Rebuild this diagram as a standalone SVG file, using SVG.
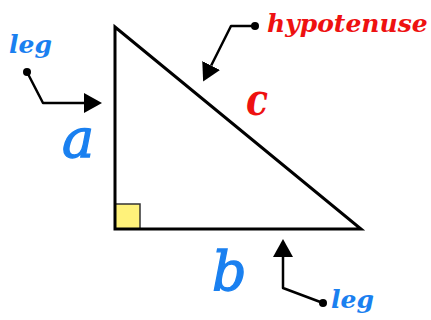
<svg xmlns="http://www.w3.org/2000/svg" width="431" height="320" viewBox="0 0 431 320">
<style>
.edge{fill:none;stroke:#000;stroke-width:2.5;stroke-linejoin:round}
.dot{fill:#000}
.lbl{font-family:"DejaVu Serif","Liberation Serif",serif;font-style:italic}
.blue{fill:#1a80f0}
.red{fill:#ee1111}
.bold{font-weight:bold}
.thick{stroke-width:1.3}
.blue.thick{stroke:#1a80f0}
</style>
<defs>
<marker id="ah" viewBox="0 0 18 20" refX="0" refY="10" markerWidth="18" markerHeight="20" markerUnits="userSpaceOnUse" orient="auto">
<path d="M0,0 L18,10 L0,20 Z" fill="#000"/>
</marker>
</defs>
<rect width="431" height="320" fill="#fff"/>
<g id="triangle">
<rect x="115" y="204" width="25" height="25" fill="#fff27a" stroke="#333" stroke-width="1.5"/>
<path d="M115,27 L115,229 L361,229 Z" fill="none" stroke="#000" stroke-width="3" stroke-linejoin="miter"/>
</g>
<g id="connectors">
<path class="edge" d="M27,72 L43,103 L84,103" marker-end="url(#ah)"/>
<circle class="dot" cx="27" cy="72" r="4"/>
<path class="edge" d="M255,26 L231,26 L211.2,65.5" marker-end="url(#ah)"/>
<circle class="dot" cx="255" cy="26" r="4"/>
<path class="edge" d="M323,303 L283,288 L283,257" marker-end="url(#ah)"/>
<circle class="dot" cx="323" cy="303" r="4"/>
</g>
<g id="label-leg-a"><text class="lbl bold blue" x="9" y="53" font-size="25">leg</text></g>
<g id="label-a"><text class="lbl blue thick" x="62" y="157" font-size="54">a</text></g>
<g id="label-hypotenuse"><text class="lbl bold red" x="267" y="32" font-size="25">hypotenuse</text></g>
<g id="label-c"><text class="lbl bold red" x="246" y="115" font-size="44" textLength="22" lengthAdjust="spacingAndGlyphs">c</text></g>
<g id="label-b"><text class="lbl blue thick" x="212" y="290" font-size="54">b</text></g>
<g id="label-leg-b"><text class="lbl bold blue" x="331" y="308" font-size="25">leg</text></g>
</svg>
